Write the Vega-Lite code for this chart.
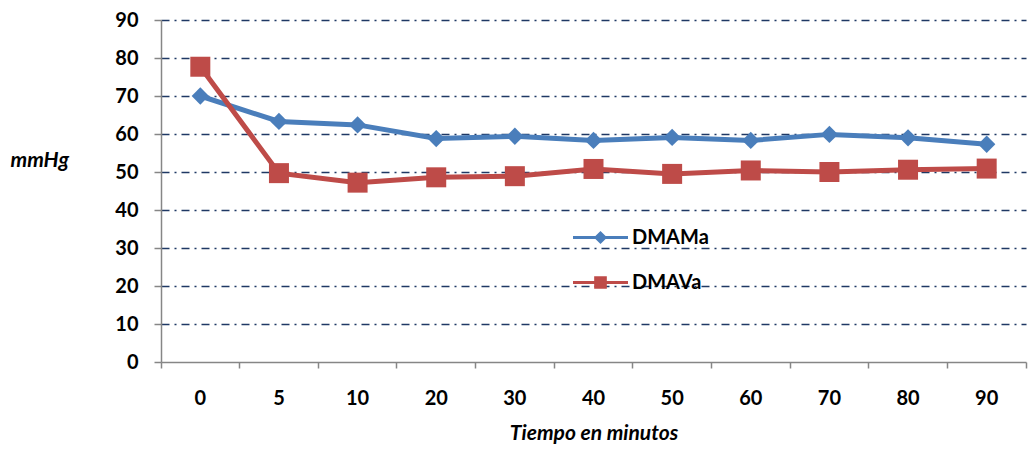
{
  "$schema": "https://vega.github.io/schema/vega-lite/v6.json",
  "width": 865,
  "height": 342,
  "autosize": {"type": "none"},
  "padding": {"left": 161, "top": 20, "right": 4, "bottom": 88},
  "config": {"font": "Lato", "view": {"stroke": null}},
  "data": {"values": [
    {"t": 0, "serie": "DMAMa", "v": 70.0},
    {"t": 5, "serie": "DMAMa", "v": 63.3},
    {"t": 10, "serie": "DMAMa", "v": 62.4},
    {"t": 20, "serie": "DMAMa", "v": 58.8},
    {"t": 30, "serie": "DMAMa", "v": 59.4},
    {"t": 40, "serie": "DMAMa", "v": 58.3},
    {"t": 50, "serie": "DMAMa", "v": 59.1},
    {"t": 60, "serie": "DMAMa", "v": 58.3},
    {"t": 70, "serie": "DMAMa", "v": 59.9},
    {"t": 80, "serie": "DMAMa", "v": 59.0},
    {"t": 90, "serie": "DMAMa", "v": 57.3},
    {"t": 0, "serie": "DMAVa", "v": 77.7},
    {"t": 5, "serie": "DMAVa", "v": 49.7},
    {"t": 10, "serie": "DMAVa", "v": 47.2},
    {"t": 20, "serie": "DMAVa", "v": 48.6},
    {"t": 30, "serie": "DMAVa", "v": 48.9},
    {"t": 40, "serie": "DMAVa", "v": 50.8},
    {"t": 50, "serie": "DMAVa", "v": 49.5},
    {"t": 60, "serie": "DMAVa", "v": 50.4},
    {"t": 70, "serie": "DMAVa", "v": 50.0},
    {"t": 80, "serie": "DMAVa", "v": 50.6},
    {"t": 90, "serie": "DMAVa", "v": 50.9}
  ]},
  "encoding": {
    "x": {
      "field": "t", "type": "ordinal",
      "scale": {"type": "band", "paddingInner": 0, "paddingOuter": 0}
    },
    "y": {
      "field": "v", "type": "quantitative",
      "scale": {"domain": [0, 90], "nice": false, "zero": true},
      "axis": {
        "values": [0, 10, 20, 30, 40, 50, 60, 70, 80, 90],
        "title": "mmHg",
        "titleAngle": 0,
        "titleAlign": "left",
        "titleBaseline": "middle",
        "titleX": -151,
        "titleY": 140,
        "titleFontSize": 21,
        "titleFontWeight": "bold",
        "titleFontStyle": "italic",
        "titleColor": "#000000",
        "labelFontSize": 20,
        "labelFontWeight": "bold",
        "labelColor": "#000000",
        "labelPadding": 16,
        "tickSize": 7,
        "tickColor": "#868686",
        "tickWidth": 1.5,
        "domainColor": "#868686",
        "domainWidth": 1.5,
        "grid": true,
        "gridColor": "#1F3864",
        "gridWidth": 1.5,
        "gridDash": [8, 5, 2, 5],
        "gridOpacity": {"condition": {"test": "datum.value === 0", "value": 0}, "value": 1}
      }
    },
    "color": {
      "field": "serie", "type": "nominal",
      "scale": {"domain": ["DMAMa", "DMAVa"], "range": ["#4A7EBB", "#BE4B48"]},
      "legend": {
        "orient": "none",
        "legendX": 412,
        "legendY": 190,
        "title": null,
        "symbolSize": 3025,
        "symbolType": "M-1,-0.055H1V0.055H-1Z",
        "rowPadding": 7,
        "labelOffset": 4,
        "labelFontSize": 20,
        "labelFontWeight": 700,
        "labelColor": "#000000",
        "labelFont": "Lato",
        "encode": {
          "symbols": {
            "update": {
              "shape": {"signal": "datum.value === 'DMAMa' ? 'M-1,-0.055H1V0.055H-1Z M0,-0.24L0.24,0L0,0.24L-0.24,0Z' : 'M-1,-0.055H1V0.055H-1Z M-0.23,-0.23H0.23V0.23H-0.23Z'"},
              "fill": {"signal": "datum.value === 'DMAMa' ? '#4A7EBB' : '#BE4B48'"},
              "fillOpacity": {"value": 1},
              "strokeWidth": {"value": 0}
            }
          },
          "labels": {
            "update": {
              "fontWeight": {"value": 700}
            }
          }
        }
      }
    }
  },
  "layer": [
    {
      "mark": {"type": "line", "strokeWidth": 5},
      "encoding": {
        "x": {
          "field": "t", "type": "ordinal",
          "scale": {"type": "band", "paddingInner": 0, "paddingOuter": 0},
          "axis": {
            "title": "Tiempo en minutos",
            "titleFontSize": 21,
            "titleFontWeight": "bold",
            "titleFontStyle": "italic",
            "titleColor": "#000000",
            "titlePadding": 14,
            "labelAngle": 0,
            "labelFontSize": 20,
            "labelFontWeight": "bold",
            "labelColor": "#000000",
            "labelPadding": 26,
            "ticks": false,
            "domainColor": "#868686",
            "domainWidth": 1.5
          }
        }
      }
    },
    {
      "transform": [{"filter": "datum.serie === 'DMAMa'"}],
      "mark": {"type": "point", "filled": true, "opacity": 1, "shape": "diamond", "size": 300},
      "encoding": {
        "x": {
          "field": "t", "type": "ordinal",
          "scale": {"type": "band", "paddingInner": 0, "paddingOuter": 0},
          "axis": {
            "orient": "bottom",
            "title": null,
            "labels": false,
            "domain": false,
            "ticks": true,
            "bandPosition": 0,
            "tickSize": 6,
            "tickColor": "#868686",
            "tickWidth": 1.5
          }
        }
      }
    },
    {
      "transform": [{"filter": "datum.serie === 'DMAVa'"}],
      "mark": {"type": "point", "filled": true, "opacity": 1, "shape": "square", "size": 400},
      "encoding": {
        "x": {
          "field": "t", "type": "ordinal",
          "scale": {"type": "band", "paddingInner": 0, "paddingOuter": 0},
          "axis": {
            "orient": "bottom",
            "title": null,
            "labels": false,
            "domain": false,
            "ticks": true,
            "values": [90],
            "bandPosition": 1,
            "tickSize": 6,
            "tickColor": "#868686",
            "tickWidth": 1.5
          }
        }
      }
    }
  ],
  "resolve": {"axis": {"x": "independent"}}
}
